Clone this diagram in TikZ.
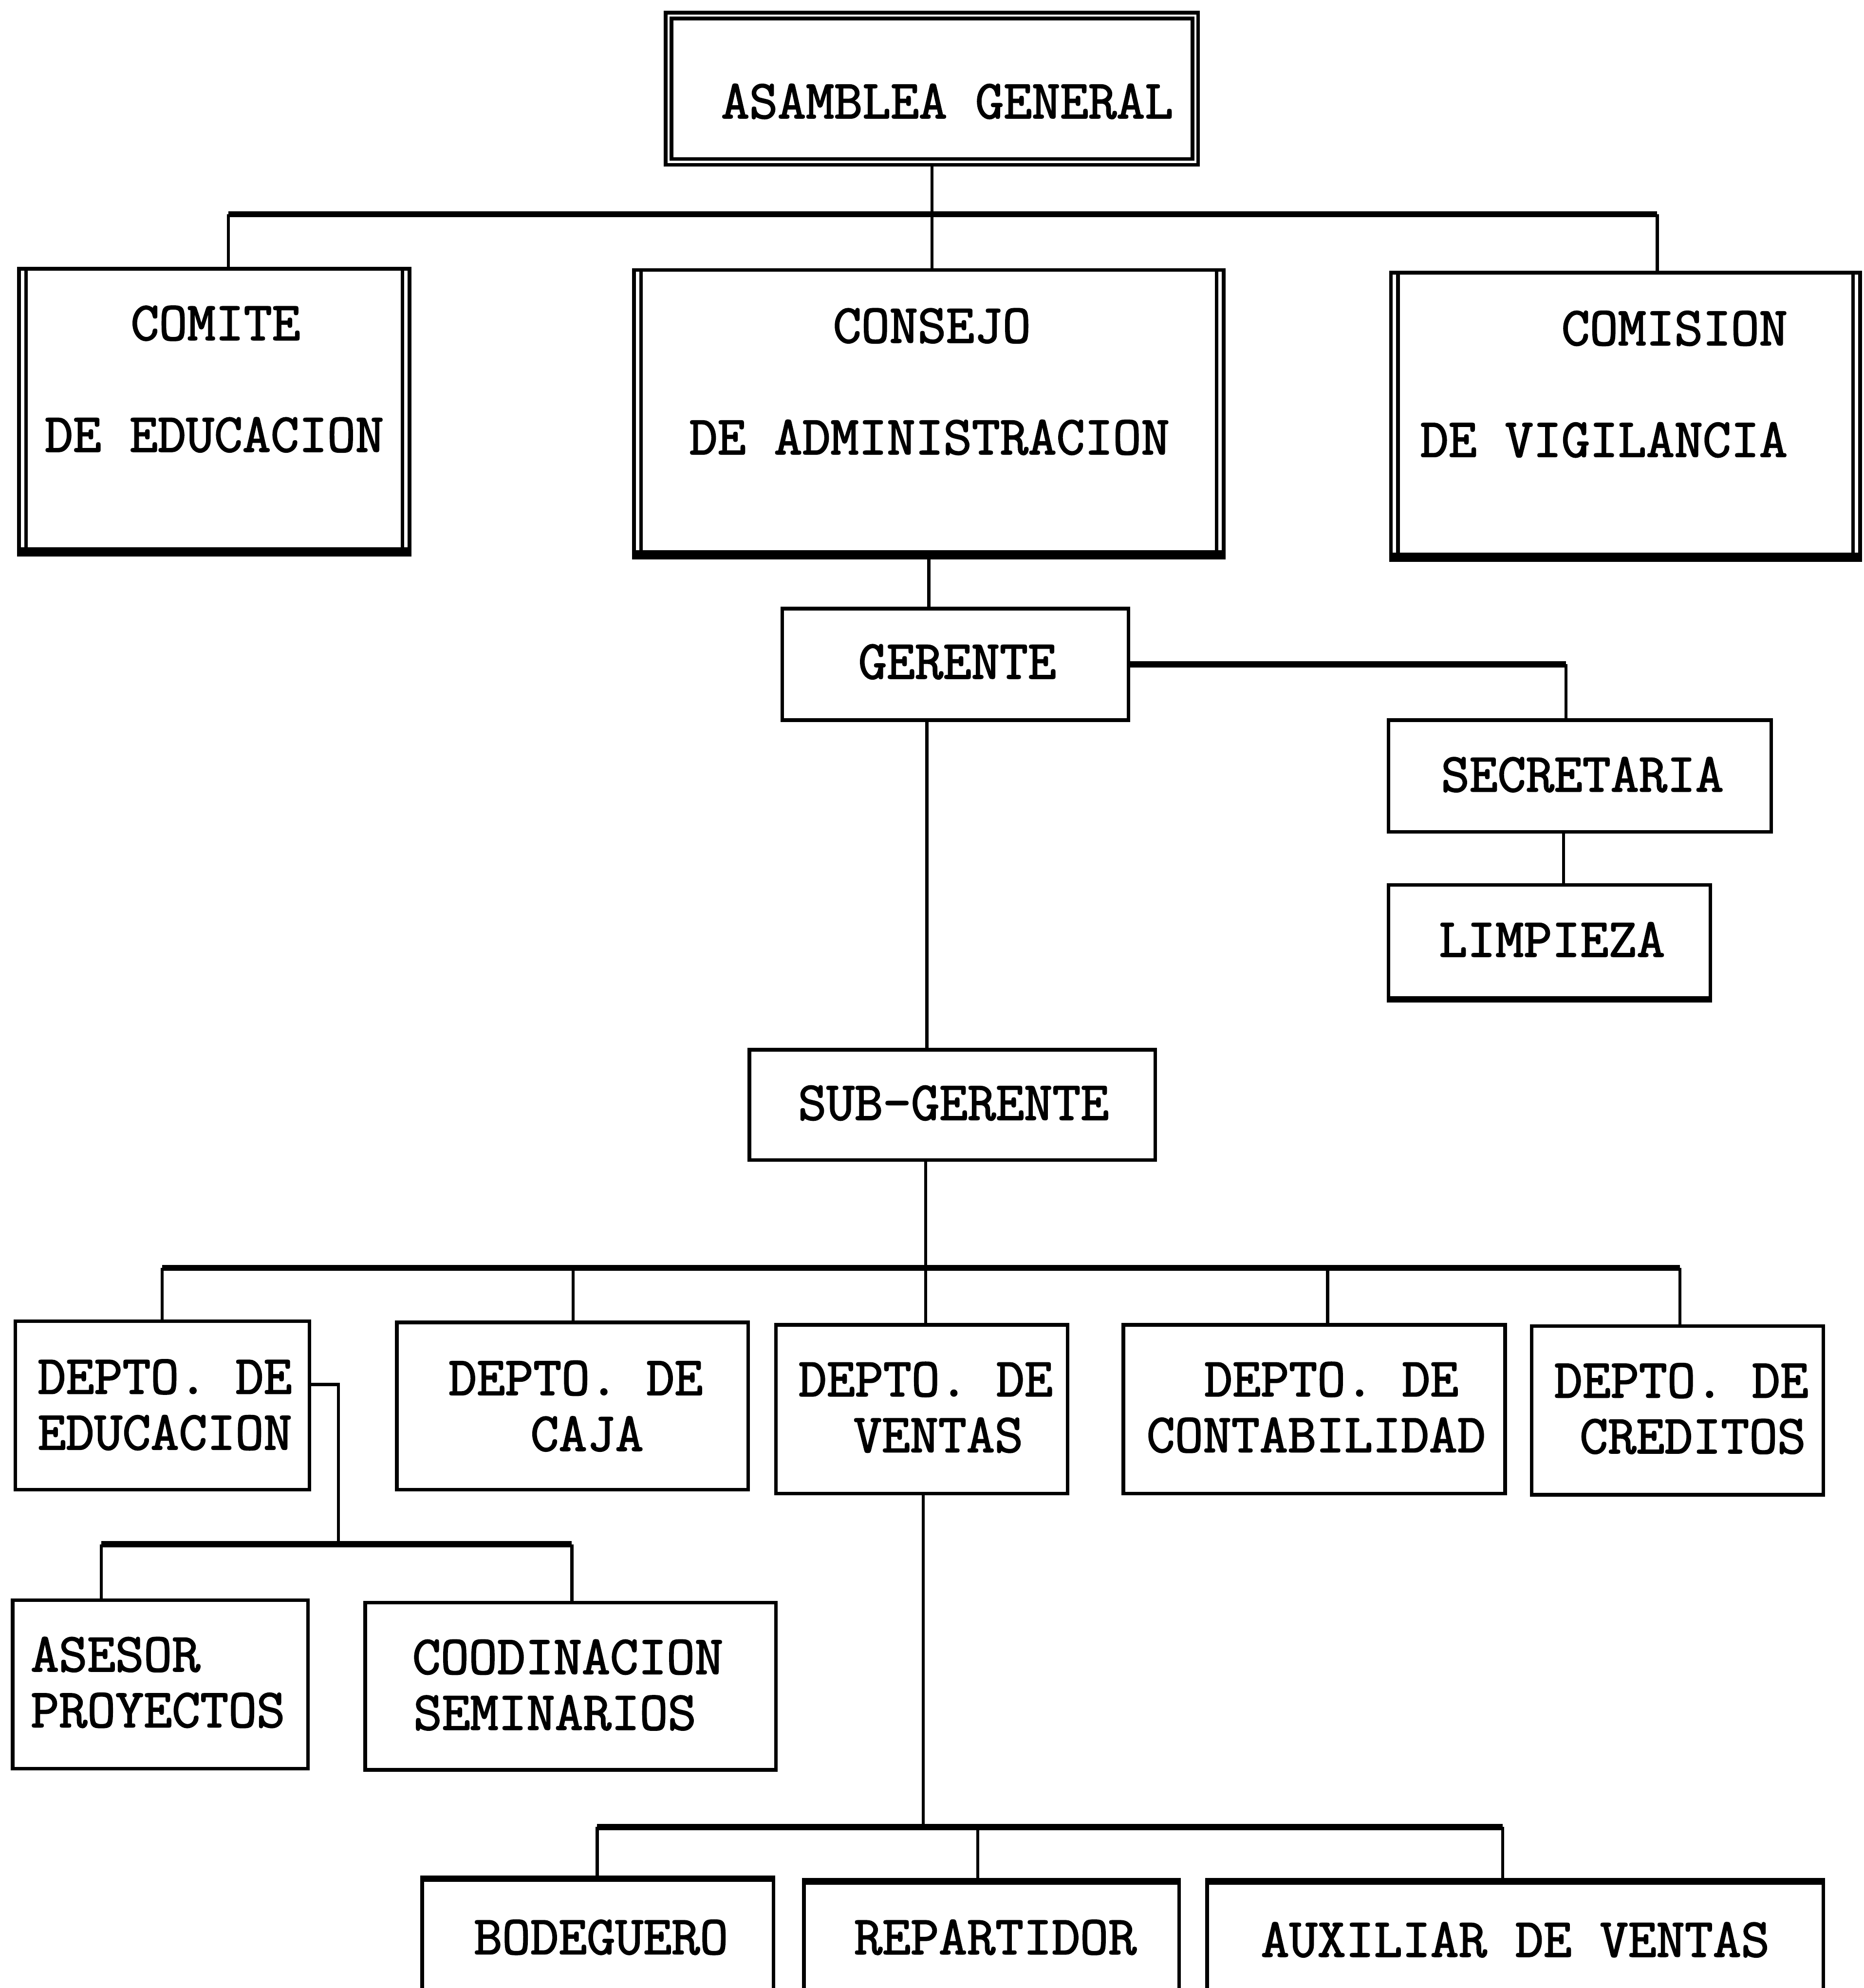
\documentclass[tikz,border=0pt]{standalone}
\usepackage{fontspec}
\newfontfamily\typew[AutoFakeBold=2]{Latin Modern Mono}
\usetikzlibrary{fit,calc}
\tikzset{
  box/.style={draw, line width=2.1pt, inner sep=0pt, fit={#1}},
  boxline/.style={line width=2.1pt},
  conn/.style={line width=1.8pt},
  bar/.style={line width=3.6pt},
  heavy/.style={line width=5.4pt},
  txt/.style={font=\fontsize{32}{34}\selectfont\typew\bfseries, inner sep=0pt}
}
\begin{document}
\begin{tikzpicture}[x=0.026cm,y=-0.026cm]
\useasboundingbox (0,0) rectangle (1470,1568);
\clip (0,0) rectangle (1470,1568);

% ---------- boxes ----------
\node[box={(525,10) (945,130)}] (asam) {};
\draw[boxline] ([shift={(6,6)}]asam.north west) rectangle ([shift={(-6,-6)}]asam.south east);

\node[box={(15,212) (323,434)}] (comite) {};
\node[box={(500,213) (965,436)}] (consejo) {};
\node[box={(1097,215) (1467,438)}] (comision) {};
\foreach \n in {comite,consejo,comision}{
  \draw[boxline] ([shift={(7,0)}]\n.north west) -- ([shift={(7,0)}]\n.south west);
  \draw[boxline] ([shift={(-7,0)}]\n.north east) -- ([shift={(-7,0)}]\n.south east);
  \draw[heavy] (\n.south west) -- (\n.south east);
}

\node[box={(617,480) (890,568)}] (gerente) {};
\node[box={(1095,568) (1397,656)}] (secre) {};
\node[box={(1095,698) (1349,787)}] (limp) {};
\draw[bar] (limp.south west) -- (limp.south east);
\node[box={(591,828) (911,915)}] (sub) {};

\node[box={(12,1042) (244,1175)}] (dedu) {};
\node[box={(313,1043) (590,1175)}] (dcaja) {};
\node[box={(612,1045) (842,1178)}] (dvent) {};
\node[box={(886,1045) (1187,1178)}] (dcont) {};
\node[box={(1208,1046) (1438,1179)}] (dcred) {};

\node[box={(10,1262) (243,1395)}] (asesor) {};
\node[box={(288,1264) (612,1396)}] (coord) {};

\node[box={(333,1483) (610,1620)}] (bode) {};
\node[box={(634,1485) (930,1620)}] (repa) {};
\node[box={(952,1485) (1438,1620)}] (auxi) {};
\foreach \n in {bode,repa,auxi}{
  \draw[bar] (\n.north west) -- (\n.north east);
}

% ---------- texts ----------
\node[txt] (tasam) at (747,80) {ASAMBLEA GENERAL};
\node[txt] (tcom1) at (170,255) {COMITE};
\node[txt] (tcom2) at (169,343) {DE EDUCACION};
\node[txt] (tcon1) at (735,257) {CONSEJO};
\node[txt] (tcon2) at (733,345) {DE ADMINISTRACION};
\node[txt, anchor=east] (tvig1) at (1410,259) {COMISION};
\node[txt, anchor=east] (tvig2) at (1410,347) {DE VIGILANCIA};
\node[txt] (tger) at (755,522) {GERENTE};
\node[txt] (tsec) at (1248,611) {SECRETARIA};
\node[txt] (tlim) at (1224,741) {LIMPIEZA};
\node[txt] (tsub) at (752,870) {SUB-GERENTE};

\node[txt] (tde1) at (130,1086) {DEPTO. DE};
\node[txt] (tde2) at (130,1130) {EDUCACION};
\node[txt] (tca1) at (454,1087) {DEPTO. DE};
\node[txt] (tca2) at (463,1131) {CAJA};
\node[txt] (tve1) at (730,1088) {DEPTO. DE};
\node[txt] (tve2) at (740,1132) {VENTAS};
\node[txt] (tco1) at (1050,1088) {DEPTO. DE};
\node[txt] (tco2) at (1038,1132) {CONTABILIDAD};
\node[txt] (tcr1) at (1326,1089) {DEPTO. DE};
\node[txt] (tcr2) at (1335,1133) {CREDITOS};

\node[txt, anchor=west] (tas1) at (24,1305) {ASESOR};
\node[txt, anchor=west] (tas2) at (24,1349) {PROYECTOS};
\node[txt, anchor=west] (tcd1) at (325,1307) {COODINACION};
\node[txt, anchor=west] (tcd2) at (326,1351) {SEMINARIOS};

\node[txt] (tbod) at (474,1528) {BODEGUERO};
\node[txt] (trep) at (785,1528) {REPARTIDOR};
\node[txt] (taux) at (1195,1530) {AUXILIAR DE VENTAS};

% ---------- connectors ----------
\draw[conn] (asam.south) -- (asam.south |- consejo.north);
\coordinate (h1l) at (180,169);
\coordinate (h1r) at (1307,169);
\draw[bar] (h1l) -- (h1r);
\draw[conn] (h1l) -- (h1l |- comite.north);
\draw[conn] (h1r) -- (h1r |- comision.north);

\draw[conn] (consejo.south) -- (consejo.south |- gerente.north);

\coordinate (gs) at (1235,524);
\draw[bar] (gerente.east) -- (gs);
\draw[conn] (gs) -- (gs |- secre.north);
\coordinate (sl) at (1233,656);
\draw[conn] (sl) -- (sl |- limp.north);

\coordinate (gsub) at (731,568);
\draw[conn] (gsub) -- (gsub |- sub.north);

\coordinate (sb) at (730,915);
\coordinate (h2l) at (128,1000);
\coordinate (h2r) at (1325,1000);
\draw[conn] (sb) -- (sb |- h2l);
\draw[bar] (h2l) -- (h2r);
\foreach \x/\n in {128/dedu,452/dcaja,730/dvent,1047/dcont,1325/dcred}{
  \coordinate (v\n) at (\x,1000);
  \draw[conn] (v\n) -- (v\n |- \n.north);
}

\coordinate (ee) at (267,1092);
\coordinate (h3l) at (80,1218);
\coordinate (h3r) at (451,1218);
\draw[conn] (dedu.east |- ee) -- (ee) -- (ee |- h3l);
\draw[bar] (h3l) -- (h3r);
\draw[conn] (h3l) -- (h3l |- asesor.north);
\draw[conn] (h3r) -- (h3r |- coord.north);

\coordinate (vv) at (728,1178);
\coordinate (h4l) at (471,1441);
\coordinate (h4r) at (1185,1441);
\draw[conn] (vv) -- (vv |- h4l);
\draw[bar] (h4l) -- (h4r);
\coordinate (h4m) at (771,1441);
\draw[conn] (h4l) -- (h4l |- bode.north);
\draw[conn] (h4m) -- (h4m |- repa.north);
\draw[conn] (h4r) -- (h4r |- auxi.north);
\end{tikzpicture}
\end{document}
